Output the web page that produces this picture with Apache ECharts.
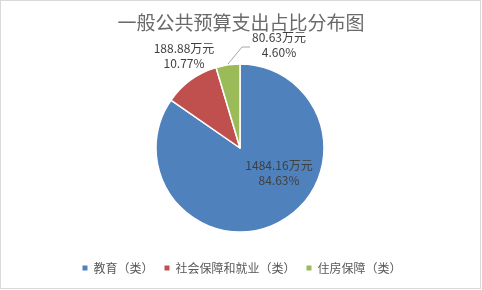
<!DOCTYPE html>
<html><head><meta charset="utf-8">
<script src="https://cdn.jsdelivr.net/npm/echarts@6/dist/echarts.min.js"></script>
<style>
html,body{margin:0;padding:0;background:#fff;}
#frame{position:absolute;left:0;top:0;width:481px;height:289px;box-sizing:border-box;border:1px solid #d9d9d9;}
#c{position:absolute;left:0;top:0;width:482px;height:290px;}
</style></head>
<body><div id="frame"></div><div id="c"></div>
<script>
const categories = ['教育（类）', '社会保障和就业（类）', '住房保障（类）'];
const amounts = [1484.16, 188.88, 80.63];
const percentLabels = ['84.63%', '10.77%', '4.60%'];
const colors = ['#4f81bd', '#c0504d', '#9bbb59'];
const titleText = '一般公共预算支出占比分布图';

const labelPos = [[279, 173], [184, 56], [279, 45]];

const chart = echarts.init(document.getElementById('c'), null, {renderer: 'canvas'});
chart.setOption({
  animation: false,
  title: {
    text: titleText, left: 'center', top: 8,
    textStyle: {fontFamily: 'Noto Sans CJK SC', fontSize: 19, fontWeight: 'normal', color: '#6a6a6a'}
  },
  legend: {
    bottom: 11, left: 'center', itemWidth: 7, itemHeight: 7, itemGap: 9, icon: 'rect',
    textStyle: {fontFamily: 'Noto Sans CJK SC', fontSize: 12, color: '#595959'},
    data: categories
  },
  series: [{
    type: 'pie', center: [240, 148], radius: 84, startAngle: 90, clockwise: true,
    itemStyle: {borderColor: '#fff', borderWidth: 1.5},
    label: {
      show: true, position: 'outside', fontFamily: 'Noto Sans CJK SC', fontSize: 12, color: '#404040', lineHeight: 15,
      formatter: p => amounts[p.dataIndex].toFixed(2) + '万元\n' + percentLabels[p.dataIndex]
    },
    labelLine: {show: true, lineStyle: {color: '#a6a6a6', width: 1}},
    labelLayout: p => {
      const o = {x: labelPos[p.dataIndex][0], y: labelPos[p.dataIndex][1], align: 'center', verticalAlign: 'middle'};
      if (p.dataIndex === 2) o.labelLinePoints = [[228, 64], [242, 47], [250, 47]];
      return o;
    },
    data: categories.map((n, i) => ({
      name: n, value: amounts[i], itemStyle: {color: colors[i]},
      labelLine: {show: i === 2}
    }))
  }]
});
</script></body></html>
